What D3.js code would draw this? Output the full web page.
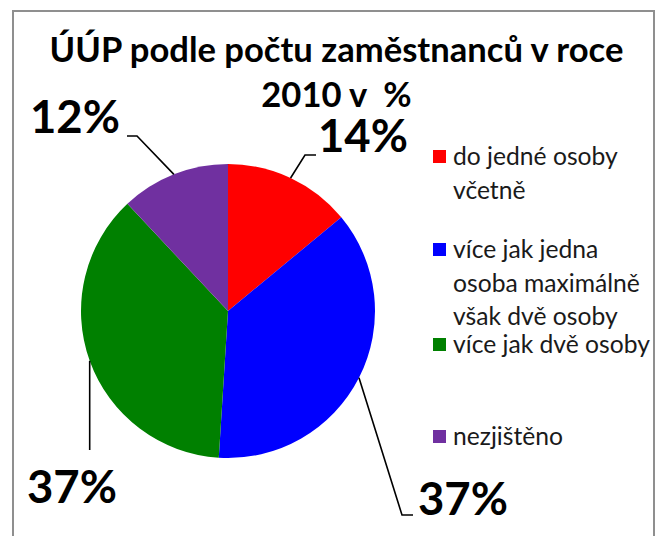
<!DOCTYPE html>
<html><head><meta charset="utf-8">
<script src="https://cdn.jsdelivr.net/npm/d3@7/dist/d3.min.js"></script>
<style>
html,body{margin:0;padding:0;background:#fff;}
svg{display:block;}
text{white-space:pre;}
</style></head>
<body>
<svg id="chart" width="660" height="536"></svg>
<script>
// ---- data ----
const titleLines = ["ÚÚP podle počtu zaměstnanců v roce", "2010 v  %"];
const categories = ["do jedné osoby včetně", "více jak jedna osoba maximálně však dvě osoby", "více jak dvě osoby", "nezjištěno"];
const legendLines = [["do jedné osoby", "včetně"], ["více jak jedna", "osoba maximálně", "však dvě osoby"], ["více jak dvě osoby"], ["nezjištěno"]];
const values = [14, 37, 37, 12];
const colors = ["#FF0000", "#0000FF", "#008000", "#7030A0"];

// ---- layout ----
const W = 660, H = 536;
const cx = 228, cy = 311, R = 147;
const FONT = "Lato, 'Open Sans', sans-serif";
// per-slice label layout: label left x, baseline y, leader elbow points after the edge point
const labelLayout = [
  {x: 318, y: 152, pts: [[305, 155], [316, 155]]},
  {x: 418, y: 515, pts: [[402, 515], [413, 515]]},
  {x: 27,  y: 503, pts: [[null, 450]]},
  {x: 30,  y: 133, pts: [[137, 136], [127, 136]]}
];
const legendX = 433, legendTextX = 453, legendFirstY = [165, 258, 353, 445], legendLineH = 33.5;

const svg = d3.select("#chart");
svg.append("rect").attr("width", W).attr("height", H).attr("fill", "#fff");
svg.append("rect").attr("x", 13).attr("y", 11).attr("width", 641).attr("height", 560)
  .attr("fill", "none").attr("stroke", "#8f8f8f").attr("stroke-width", 2);

function fitSize(text, weight, target) {
  const t = svg.append("text").attr("font-family", FONT).attr("font-weight", weight)
    .attr("font-size", 100).text(text);
  const w = t.node().getComputedTextLength();
  t.remove();
  return 100 * target / w;
}

// title
const titleSize = fitSize(titleLines[0], 700, 574);
const titleY = [62, 107];
svg.selectAll("text.title").data(titleLines).join("text").attr("class", "title")
  .attr("x", 336.5).attr("y", (d, i) => titleY[i]).attr("text-anchor", "middle")
  .attr("font-family", FONT).attr("font-weight", 700).attr("font-size", titleSize)
  .attr("fill", "#000").text(d => d);

// pie
const pie = d3.pie().sort(null).value(d => d);
const arcs = pie(values);
const arc = d3.arc().innerRadius(0).outerRadius(R);
const edgeArc = d3.arc().innerRadius(R).outerRadius(R);
const g = svg.append("g").attr("transform", `translate(${cx},${cy})`);
g.selectAll("path").data(arcs).join("path").attr("d", arc).attr("fill", (d, i) => colors[i]);

// leader lines
arcs.forEach((a, i) => {
  const c = edgeArc.centroid(a);
  const p0 = [cx + c[0], cy + c[1]];
  const pts = [p0].concat(labelLayout[i].pts.map(p => [p[0] === null ? p0[0] : p[0], p[1]]));
  svg.append("path").attr("d", d3.line()(pts)).attr("fill", "none")
    .attr("stroke", "#000").attr("stroke-width", 1.6);
});

// percent labels
const pctSize = fitSize("12%", 700, 90);
svg.selectAll("text.pct").data(values).join("text").attr("class", "pct")
  .attr("x", (d, i) => labelLayout[i].x).attr("y", (d, i) => labelLayout[i].y)
  .attr("font-family", FONT).attr("font-weight", 700).attr("font-size", pctSize)
  .attr("fill", "#000").text(d => d + "%");

// legend
const legSize = fitSize("více jak dvě osoby", 400, 197);
const leg = svg.selectAll("g.leg").data(categories).join("g").attr("class", "leg");
leg.append("rect").attr("x", legendX).attr("y", (d, i) => legendFirstY[i] - 15)
  .attr("width", 13).attr("height", 13).attr("fill", (d, i) => colors[i]);
leg.each(function(d, i) {
  d3.select(this).selectAll("text").data(legendLines[i]).join("text")
    .attr("x", legendTextX).attr("y", (t, j) => legendFirstY[i] + j * legendLineH)
    .attr("font-family", FONT).attr("font-size", legSize).attr("fill", "#1a1a1a").text(t => t);
});
</script>
</body></html>
